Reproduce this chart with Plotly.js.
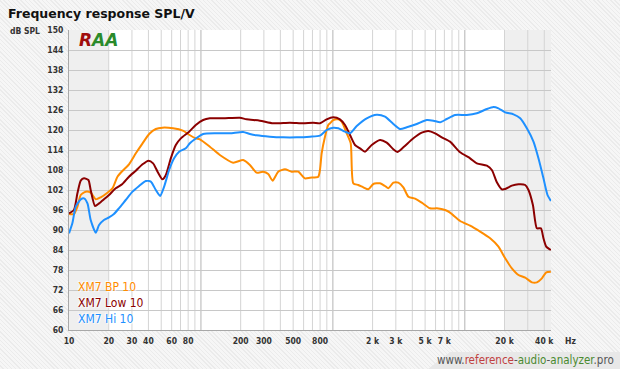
<!DOCTYPE html>
<html><head><meta charset="utf-8">
<script src="https://cdn.plot.ly/plotly-3.0.1.min.js"></script>
<style>
html,body{margin:0;padding:0;width:620px;height:369px;overflow:hidden;}
body{background:repeating-linear-gradient(45deg,#f6f6f6 0px,#f6f6f6 2px,#ebebeb 2px,#ebebeb 3px);}
#foot{position:absolute;left:0;top:0;width:620px;height:369px;background:#e8e8e8;clip-path:polygon(428px 369px,450px 352px,620px 352px,620px 369px);}
#chart{position:absolute;left:0;top:0;width:620px;height:369px;}
</style></head>
<body>
<div id="foot"></div>
<div id="chart"></div>
<script>
// ---- data (frequency in Hz, level in dB SPL) ----
const seriesNames = ["XM7 BP 10", "XM7 Low 10", "XM7 Hi 10"];

const bpFreq = [10,10.9,11.58,12.27,13.39,14.6,15.95,17.4,19.56,21.35,23.3,25.4,28.5,32.1,36.1,40.5,45.5,51.1,61.5,72.9,82,91.4,98.1,116.8,139.1,175.5,209,235,264,296.5,323.6,349.4,385.3,433.2,486.9,546.5,614.4,671,774.9,798,822.2,871.2,922.9,950.6,1007,1099,1166,1273,1365,1428,1558,1701,1856,2025,2277,2484,2633,2872,3135,3421,3734,4197,4718,5455,6134,7088,7730,9211,10970,13070,15560,17990,20230,22730,25510,28680,32230,35180,38390,41400,44900];
const bpDb = [94.8,94.8,97,100.5,101.5,101.2,99.2,99.8,101.2,102.5,106,107.7,109.7,113,116,118.8,120.3,120.7,120.5,119.8,118.5,117.5,117.2,115,112.5,110.2,111,109.5,107.2,107.5,106.8,104.8,107.5,108.2,107.5,107.5,105.5,105.7,106,108,113,118,121.5,122,123,123.2,122.5,119,116,104,103.5,102.8,102.2,103.8,104,103.2,102.5,104.2,104.2,102.8,100,99.4,98.2,96.5,96.5,96,95.2,92.7,91.3,89.5,87.5,85,81.5,78.5,76.5,75.7,74.3,74.3,75.5,77.3,77.5];

const lowFreq = [10,10.9,11.58,12.27,13.0,14.03,14.6,15.75,16.9,18.4,20.1,22.6,25.4,28.5,32.1,36.1,40.0,43.4,46.9,51.1,54.2,59.1,64.5,70.4,81.4,91.4,103.9,116.8,147.4,197.3,221.8,279.9,353,472.6,596.4,710.2,798,897,1007,1132,1236,1349,1471,1605,1752,1970,2277,2560,2872,3081,3421,4074,4718,5295,5953,6692,7730,9211,10970,12330,14690,16030,17490,19090,20230,22730,25510,28680,30370,32810,35180,37730,39450,41400,44900];
const lowDb = [95,96,101,104.8,105.5,105,102,97.2,98,99.2,100.5,102.5,103.8,106,107.8,109.7,110.8,110,107.5,105.2,106.5,111.5,115.5,117.5,119.5,121.5,123,123.5,123.5,123.7,123.2,122.8,122,122.2,122,122.2,122,123.2,123.8,123.2,121.5,118.5,115.5,114.5,113.5,115.5,117,116.2,114.2,113.4,114.8,117.5,119.2,119.7,119,117.8,116.5,113.3,111.5,110,109.3,108,104.3,102.2,102.3,103.3,103.7,103.5,102,97.5,90.5,90.5,87.5,85,84];

const hiFreq = [10,10.6,11.24,12.27,13.0,13.8,14.6,15.95,16.9,18.4,20.1,21.9,23.9,26.9,30.3,34.0,38.2,41.7,45.5,49.0,52.6,57.4,62.6,68.3,76.8,82.4,92.6,103.9,131.3,165.7,209,235,264,333,420,531,671,798,897,1007,1099,1236,1349,1517,1805,2148,2484,2872,3228,3630,4324,5150,5780,6500,7300,8440,10350,12330,14690,16490,17990,20230,23390,26300,29530,33140,36150,39450,42330,44900];
const hiDb = [89.0,92,97,99.2,99.5,98,93,89.2,91.5,93,93.8,94.8,96.5,99,101.5,103.2,104.7,104.5,102,100.2,103,108,111.5,113.5,114.5,116,117.6,118.8,119,119,119.4,118.8,118.4,118,117.8,117.8,118,118.3,120,120.7,120.5,119.5,119,121.2,123.5,124.6,124,121.8,120.3,120.8,121.8,123,122.8,122.3,123.3,124.5,124.5,125,126.3,126.9,126.5,125.3,124.7,123.5,120.5,116.5,111.5,105.5,100.5,98.7];

const xTickVals = [10,20,30,40,60,80,200,300,500,800,2000,3000,5000,7000,20000,40000];
const xTickText = ["10","20","30","40","60","80","200","300","500","800","2 k","3 k","5 k","7 k","20 k","40 k"];
const xMin = 10, xMax = 45000;
const yMin = 60, yMax = 150, yStep = 6;
const bandLow = [10, 20], bandHigh = [20000, 45000];

// ---- styles ----
const colors = ["#ff8c00", "#8b0000", "#1e90ff"];
const FONT = "DejaVu Sans Condensed, DejaVu Sans, sans-serif";

const traces = [
  {x: bpFreq, y: bpDb},
  {x: lowFreq, y: lowDb},
  {x: hiFreq, y: hiDb}
].map((d, i) => ({
  x: d.x, y: d.y, type: "scatter", mode: "lines", name: seriesNames[i],
  line: {color: colors[i], width: 2, shape: "spline", smoothing: 0.6},
  hoverinfo: "skip"
}));

// vertical grid lines (1..9 per decade)
const shapes = [];
[bandLow, bandHigh].forEach(b => shapes.push({
  type: "rect", xref: "x", yref: "paper", x0: b[0], x1: b[1], y0: 0, y1: 1,
  fillcolor: "#efefef", line: {width: 0}, layer: "below"
}));
for (let d = 10; d <= 10000; d *= 10) {
  for (let k = 1; k <= 9; k++) {
    const f = k * d;
    if (f <= xMin || f >= xMax) continue;
    const major = (k === 1);
    shapes.push({type: "line", xref: "x", yref: "paper", x0: f, x1: f, y0: 0, y1: 1,
      line: {color: major ? "#b4b4b4" : "#d4d4d4", width: 1}, layer: "below"});
  }
}

const W = 482, H = 300, L = 69, T = 30;
const px = v => (v - L) / W;
const py = v => (T + H - v) / H;

const annotations = [
  {text: "dB SPL", x: px(8), y: py(31), xanchor: "left", yanchor: "middle"},
  {text: "Hz", x: px(570), y: py(341), xanchor: "center", yanchor: "middle"}
].map(a => Object.assign(a, {xref: "paper", yref: "paper", showarrow: false,
  font: {family: FONT, size: 8.5, weight: 700, color: "#333"}}));

seriesNames.forEach((n, i) => annotations.push({
  text: n, xref: "paper", yref: "paper", x: px(76), y: py(287.3 + i * 16),
  xanchor: "left", yanchor: "middle", showarrow: false,
  font: {family: FONT, size: 12, color: colors[i], shadow: "1px 1px 1px #fff, -1px -1px 1px #fff"}
}));

annotations.push({
  text: '<span style="color:#a00c0c">R</span><span style="color:#2a8a2a">AA</span>',
  xref: "paper", yref: "paper", x: px(77), y: py(40), xanchor: "left", yanchor: "middle",
  showarrow: false, font: {family: "DejaVu Sans, sans-serif", size: 17, weight: 700, style: "italic"}
});

annotations.push({
  text: '<span style="color:#555">www.</span><span style="color:#c04040">reference</span><span style="color:#555">-</span><span style="color:#4a8a30">audio</span><span style="color:#555">-</span><span style="color:#4a8a30">analyzer</span><span style="color:#555">.pro</span>',
  xref: "paper", yref: "paper", x: px(616), y: py(360), xanchor: "right", yanchor: "middle",
  showarrow: false, font: {family: FONT, size: 11.5}
});

const layout = {
  width: 620, height: 369,
  margin: {l: L, r: 620 - L - W, t: T, b: 369 - T - H, pad: 0},
  paper_bgcolor: "rgba(0,0,0,0)", plot_bgcolor: "#ffffff",
  showlegend: false,
  title: {text: "Frequency response SPL/V", x: 8 / 620, xanchor: "left", xref: "container",
          y: 1 - 14 / 369, yanchor: "middle", yref: "container",
          font: {family: "DejaVu Sans, sans-serif", size: 12.5, weight: 700, color: "#111"}},
  xaxis: {type: "log", range: [Math.log10(xMin), Math.log10(xMax)],
          tickmode: "array", tickvals: xTickVals, ticktext: xTickText,
          showgrid: false, zeroline: false, showline: true, linecolor: "#a8a8a8", linewidth: 1,
          ticks: "", ticklabelstandoff: 3,
          tickfont: {family: FONT, size: 8.5, weight: 700, color: "#333"}},
  yaxis: {range: [yMin, yMax], tick0: yMin, dtick: yStep, showgrid: true, gridcolor: "#c8c8c8",
          zeroline: false, showline: true, linecolor: "#a8a8a8", linewidth: 1,
          ticks: "", ticklabelstandoff: 3,
          tickfont: {family: FONT, size: 8.5, weight: 700, color: "#333"}},
  shapes: shapes,
  annotations: annotations
};

Plotly.newPlot("chart", traces, layout, {staticPlot: true, displayModeBar: false});
</script>
</body></html>
